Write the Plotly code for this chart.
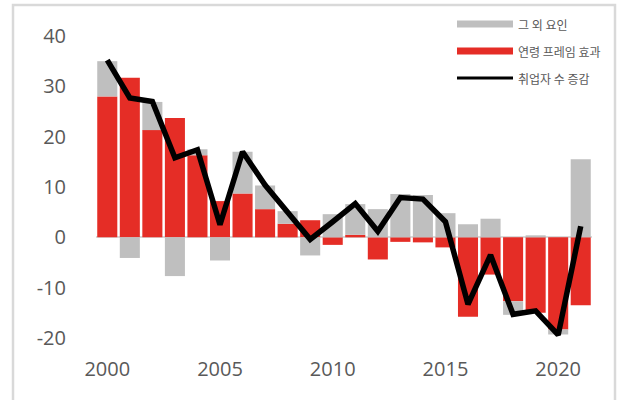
import plotly.graph_objects as go

# Annual change in employment (10k persons), decomposed
years = list(range(2000, 2022))
age_frame_effect = [28.0, 31.7, 21.3, 23.7, 16.3, 7.2, 8.7, 5.6, 2.7, 3.4, -1.5,
                    0.5, -4.4, -0.9, -1.0, -2.0, -15.8, -7.4, -12.7, -15.0, -18.3, -13.5]
other_factors = [7.0, -4.1, 5.6, -7.7, 1.2, -4.6, 8.3, 4.7, 2.5, -3.6, 4.6,
                 6.1, 5.6, 8.6, 8.4, 4.8, 2.6, 3.7, -2.7, 0.4, -1.0, 15.5]
employment_change = [35.2, 27.7, 27.0, 15.8, 17.4, 2.5, 17.0, 10.4, 5.0, -0.4, 3.1,
                     6.7, 1.2, 7.9, 7.6, 3.1, -13.3, -3.5, -15.3, -14.6, -19.4, 2.2]

legend_labels = ["그 외 요인", "연령 프레임 효과", "취업자 수 증감"]
x_tick_years = [2000, 2005, 2010, 2015, 2020]
y_ticks = [-20, -10, 0, 10, 20, 30, 40]
y_tick_text = ["-20", "-10", "0", "10", "20", "30", "40"]

RED = "#E52D26"
GREY = "#BFBFBF"
TEXT = "#595959"
FRAME = "#D9D9D9"

W, H = 618, 400
ML, MR, MT, MB = 96, 26, 36, 62
PW, PH = W - ML - MR, H - MT - MB


def px_x(px):
    return (px - ML) / PW


def px_y(py):
    return (H - MB - py) / PH


fig = go.Figure()
fig.add_trace(go.Bar(x=years, y=age_frame_effect, name=legend_labels[1],
                     marker=dict(color=RED, line=dict(width=0)), showlegend=False))
fig.add_trace(go.Bar(x=years, y=other_factors, name=legend_labels[0],
                     marker=dict(color=GREY, line=dict(width=0)), showlegend=False))
fig.add_trace(go.Scatter(x=years, y=employment_change, name=legend_labels[2],
                         mode="lines", line=dict(color="black", width=5.5),
                         showlegend=False))

shapes = [
    # outer chart frame
    dict(type="rect", xref="paper", yref="paper",
         x0=px_x(13), x1=px_x(615), y0=px_y(420), y1=px_y(5),
         line=dict(color=FRAME, width=2.5), fillcolor="rgba(0,0,0,0)", layer="below"),
]
annotations = []

# legend swatches and labels
legend_rows = [(24, GREY, 7), (51, RED, 7), (78, "black", 3)]
for (yc, col, lw), label in zip(legend_rows, legend_labels):
    shapes.append(dict(type="line", xref="paper", yref="paper",
                       x0=px_x(457), x1=px_x(513), y0=px_y(yc), y1=px_y(yc),
                       line=dict(color=col, width=lw)))
    annotations.append(dict(xref="paper", yref="paper", x=px_x(516), y=px_y(yc),
                            text=label, showarrow=False, xanchor="left", yanchor="middle",
                            font=dict(family="Noto Sans CJK KR", size=12, color=TEXT)))

fig.update_layout(
    width=W, height=H,
    margin=dict(l=ML, r=MR, t=MT, b=MB),
    paper_bgcolor="white", plot_bgcolor="white",
    barmode="relative", bargap=0.11,
    shapes=shapes, annotations=annotations,
    font=dict(family="Open Sans", color=TEXT),
)
fig.update_xaxes(range=[1999.5, 2021.5], tickvals=x_tick_years, showgrid=False,
                 showline=False, zeroline=False, ticks="",
                 tickfont=dict(size=20, color=TEXT), ticklabelstandoff=17)
fig.update_yaxes(range=[-20, 40], tickvals=y_ticks, ticktext=y_tick_text,
                 showgrid=False, showline=False,
                 zeroline=True, zerolinecolor=FRAME, zerolinewidth=1.5, ticks="",
                 tickfont=dict(size=20, color=TEXT), ticklabelstandoff=29)

fig.write_html("out.html")
